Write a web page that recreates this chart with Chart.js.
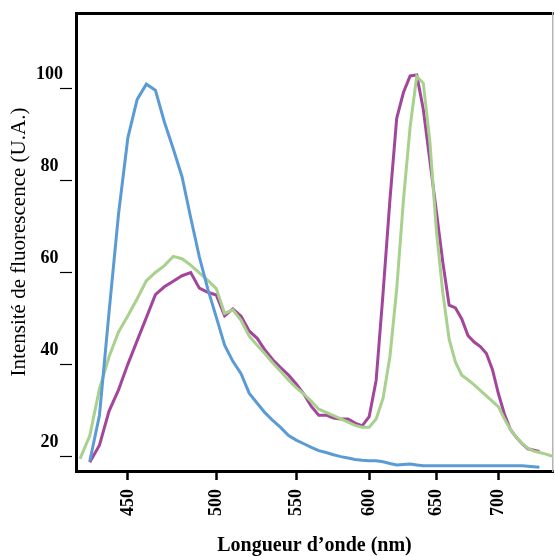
<!DOCTYPE html>
<html>
<head>
<meta charset="utf-8">
<title>Spectres de fluorescence</title>
<script src="https://cdn.jsdelivr.net/npm/chart.js@4.4.1/dist/chart.umd.min.js"></script>
<style>
  html, body { margin: 0; padding: 0; background: #fff; }
</style>
</head>
<body>
<canvas id="myChart" width="555" height="556"></canvas>
<script>
'use strict';

// longueurs d'onde (nm), pas de 5 nm
var wavelengths = [425, 430, 435, 440, 445, 450, 455, 460, 465, 470, 475, 480, 485, 490, 495,
  500, 505, 510, 515, 520, 525, 530, 535, 540, 545, 550, 555, 560, 565, 570, 575, 580, 585, 590, 595,
  600, 605, 610, 615, 620, 625, 630, 635, 640, 645, 650, 655, 660, 665, 670, 675, 680, 685, 690, 695,
  700, 705, 710, 715, 720, 725, 730, 735, 740, 745, 750];

var blueValues = [null, 19.0, 29.0, 51.4, 72.7, 89.3, 97.6, 100.9, 99.6, 92.7, 86.9, 80.8, 71.9, 63.4, 56.4,
  50.3, 44.2, 40.7, 38.0, 33.8, 31.6, 29.5, 27.8, 26.3, 24.6, 23.6, 22.8, 22.0, 21.3, 20.9, 20.4, 20.0, 19.7, 19.4, 19.2,
  19.1, 19.1, 18.9, 18.5, 18.2, 18.3, 18.4, 18.2, 18.0, 18.0, 18.0, 18.0, 18.0, 18.0, 18.0, 18.0, 18.0, 18.0, 18.0, 18.0,
  18.0, 18.0, 18.0, 18.0, 18.0, 17.9, 17.8, 17.7, null, null, null];

var purpleValues = [null, 18.8, 22.5, 29.9, 34.5, 40.1, 45.2, 50.2, 55.2, 56.9, 58.1, 59.3, 60.0, 56.6, 55.7,
  55.1, 50.6, 52.1, 50.5, 47.3, 45.7, 43.1, 41.0, 39.3, 37.7, 35.8, 33.6, 30.9, 29.0, 29.0, 28.4, 28.2, 28.2, 27.3, 26.7,
  28.7, 36.6, 55.5, 75.7, 93.5, 99.1, 102.7, 102.9, 95.4, 84.3, 73.3, 62.3, 52.9, 52.3, 49.9, 46.3, 44.9, 43.9, 42.4, 38.9,
  33.6, 29.2, 25.9, 24.2, 22.8, 21.7, 21.4, 21.1, null, null, null];

var greenValues = [19.5, 24.5, 34.7, 41.7, 47.1, 50.6, 54.3, 58.2, 60.0, 61.5, 63.5, 63.0, 61.6, 59.9, 58.3,
  56.5, 51.1, 51.9, 49.6, 46.2, 44.2, 42.3, 40.3, 38.5, 36.6, 35.0, 33.6, 32.0, 30.3, 29.6, 28.9, 28.2, 27.5, 26.8, 26.4,
  26.4, 28.2, 32.7, 41.7, 56.4, 75.7, 91.6, 102.6, 101.1, 88.5, 69.2, 55.7, 45.5, 40.5, 37.7, 36.7, 35.6, 34.4, 33.2, 32.0,
  30.8, 28.2, 25.9, 24.2, 22.9, 21.8, 21.2, 20.9, 20.6, 20.2, 19.9];

var xTickValues = [450, 500, 550, 600, 650, 700];
var yTickValues = [20, 40, 60, 80, 100];

Chart.defaults.font.family = "'Liberation Serif', 'Times New Roman', serif";
Chart.defaults.color = '#000';

function toPoints(values) {
  var pts = [];
  for (var i = 0; i < wavelengths.length; i++) {
    pts.push({ x: wavelengths[i], y: values[i] });
  }
  return pts;
}

function makeSeries(values, color) {
  return {
    data: toPoints(values),
    borderColor: color,
    backgroundColor: color,
    borderWidth: 3,
    pointRadius: 0,
    tension: 0,
    fill: false,
    xAxisID: 'x',
    yAxisID: 'y'
  };
}

var ctx = document.getElementById('myChart');

var myChart = new Chart(ctx, {
  type: 'line',
  data: {
    datasets: [
      makeSeries(blueValues, '#5b9bd5'),
      makeSeries(greenValues, '#a9d18e'),
      makeSeries(purpleValues, '#a2469c')
    ]
  },
  options: {
    responsive: false,
    animation: false,
    layout: { padding: 0 },
    plugins: {
      legend: { display: false },
      tooltip: { enabled: false }
    },
    scales: {
      x: {
        type: 'logarithmic',
        position: 'bottom',
        min: 423,
        max: 747,
        afterBuildTicks: function(scale) {
          scale.ticks = xTickValues.map(function(v) { return { value: v }; });
        },
        afterFit: function(scale) { scale.height = 85; },
        grid: { drawOnChartArea: false, tickLength: 9, tickWidth: 2.5, tickColor: '#000' },
        border: { color: '#000', width: 3 },
        ticks: {
          autoSkip: false,
          minRotation: 90,
          maxRotation: 90,
          padding: 9,
          font: { size: 18, weight: 'bold' },
          callback: function(v) { return String(v); }
        },
        title: {
          display: true,
          text: 'Longueur d’onde (nm)',
          font: { size: 20, weight: 'bold', lineHeight: 1 },
          padding: 0
        }
      },
      y: {
        position: 'left',
        min: 16.88,
        max: 116.37,
        afterBuildTicks: function(scale) {
          scale.ticks = yTickValues.map(function(v) { return { value: v }; });
        },
        afterFit: function(scale) { scale.width = 76; },
        grid: { drawOnChartArea: false, tickLength: 16, tickWidth: 1.2, tickColor: '#000', tickBorderDash: [12, 20] },
        border: { color: '#000', width: 3 },
        ticks: {
          crossAlign: 'center',
          padding: -3,
          labelOffset: -14,
          font: { size: 18, weight: 'bold' },
          callback: function(v) { return String(v); }
        },
        title: {
          display: true,
          text: 'Intensité de fluorescence (U.A.)',
          font: { size: 21, lineHeight: 1 },
          padding: { top: 9, bottom: 0 }
        }
      },
      xTop: {
        type: 'linear',
        position: 'top',
        afterFit: function(scale) { scale.height = 13; },
        grid: { display: false },
        ticks: { display: false },
        border: { color: '#000', width: 3 }
      },
      yRight: {
        type: 'linear',
        position: 'right',
        afterFit: function(scale) { scale.width = 2; },
        grid: { display: false },
        ticks: { display: false },
        border: { color: '#b4b4b4', width: 1.5 }
      }
    }
  }
});
</script>
</body>
</html>
